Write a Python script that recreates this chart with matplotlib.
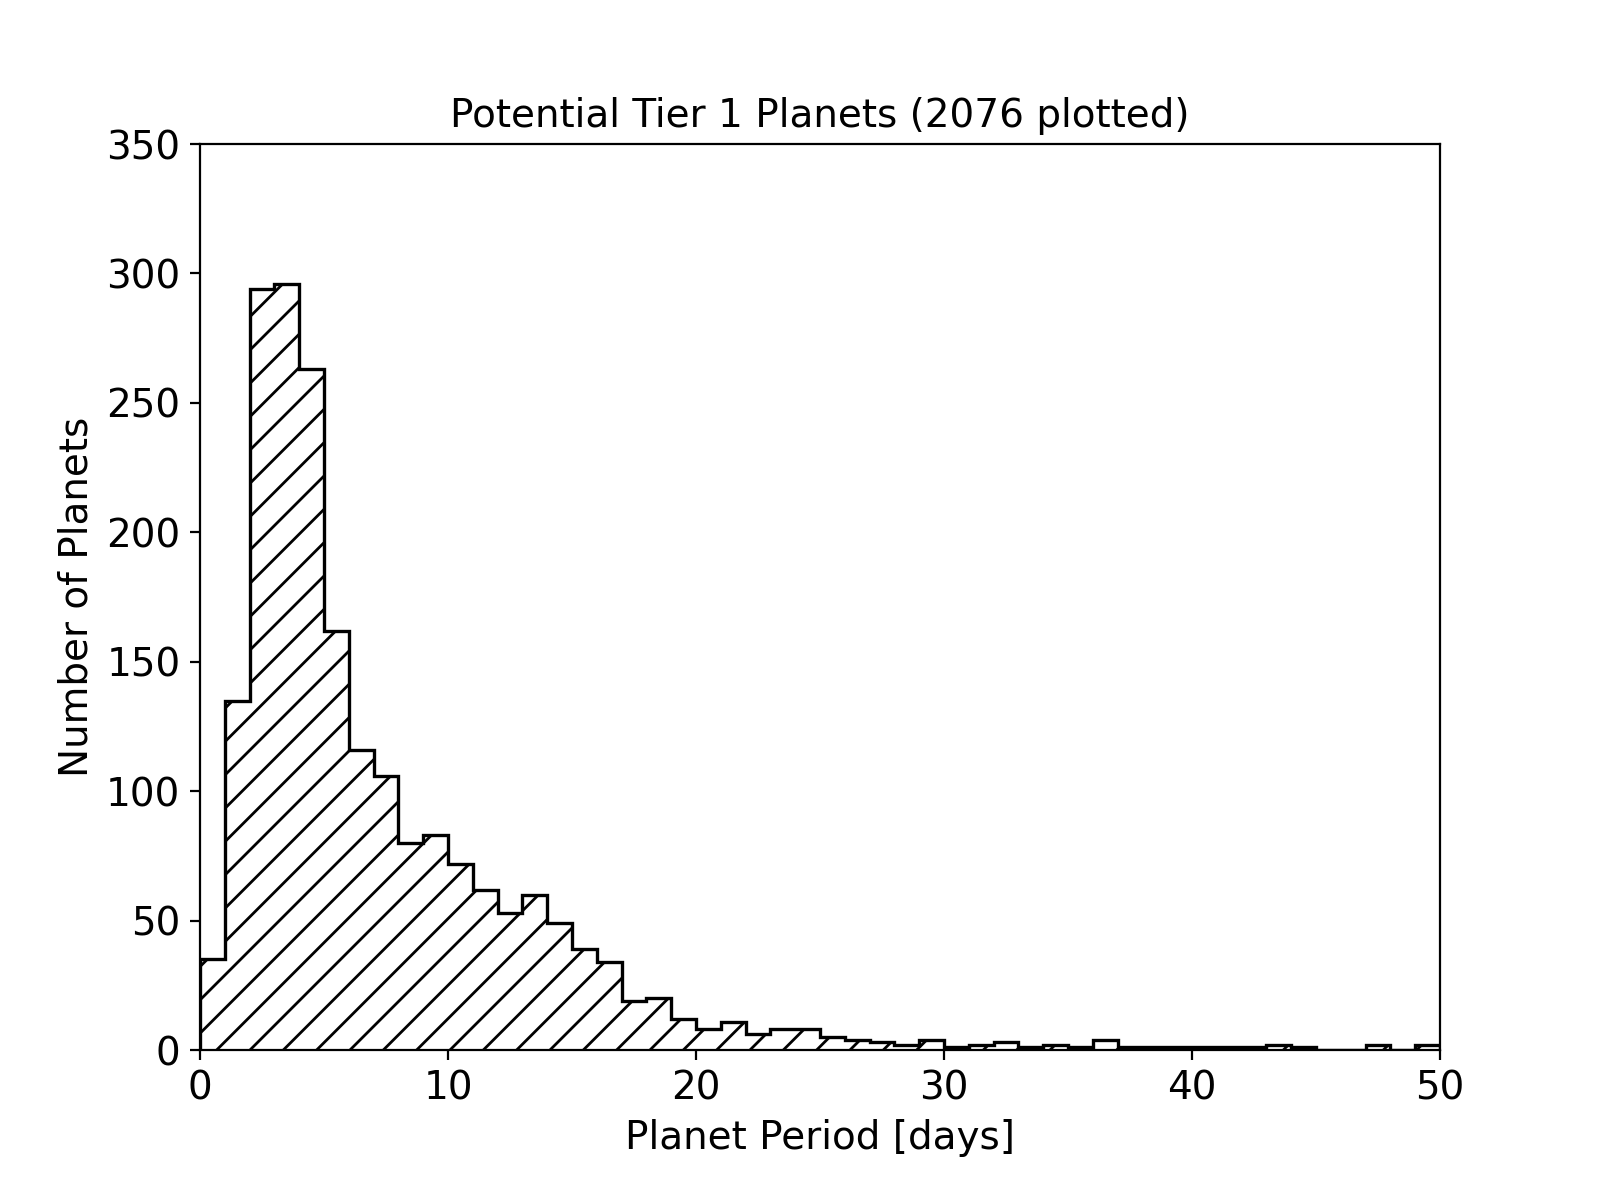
import numpy as np
import matplotlib
matplotlib.use('Agg')
import matplotlib.pyplot as plt

# counts per 1-day period bin, 0..50 days
bin_edges = np.arange(0, 51, 1)
counts = [35, 135, 294, 296, 263, 162, 116, 106, 80, 83,
          72, 62, 53, 60, 49, 39, 34, 19, 20, 12,
          8, 11, 6, 8, 8, 5, 4, 3, 2, 4,
          1, 2, 3, 1, 2, 1, 4, 1, 1, 1,
          1, 1, 1, 2, 1, 0, 0, 2, 0, 2]

title = 'Potential Tier 1 Planets (2076 plotted)'
fs = 14

fig, ax = plt.subplots(figsize=(8, 6), dpi=200)
fig.subplots_adjust(left=0.125, right=0.9, bottom=0.125, top=0.88)

centers = bin_edges[:-1] + 0.5
ax.hist(centers, bins=bin_edges, weights=counts, histtype='step',
        hatch='//', color='black', linewidth=1.2)

ax.set_xlim(0, 50)
ax.set_ylim(0, 350)
ax.set_xlabel('Planet Period [days]', fontsize=fs)
ax.set_ylabel('Number of Planets', fontsize=fs)
ax.set_title(title, fontsize=fs)
ax.tick_params(labelsize=fs)

fig.savefig('out.png', dpi=200)
